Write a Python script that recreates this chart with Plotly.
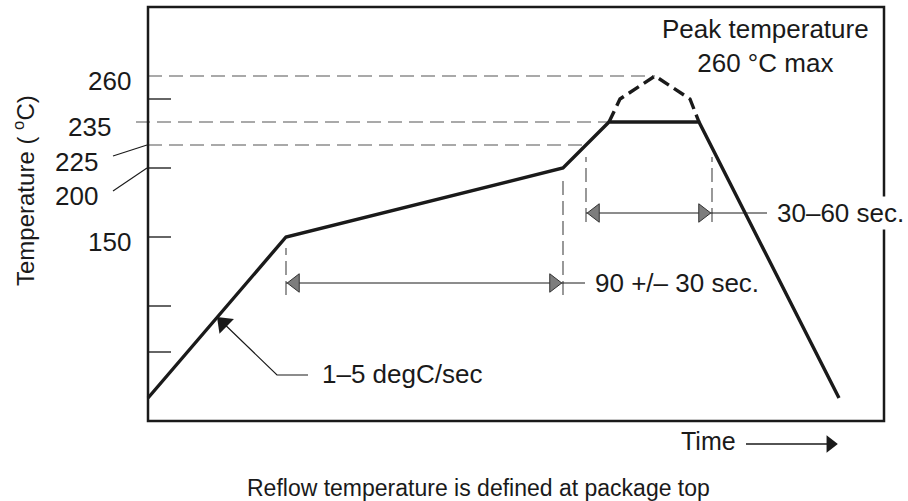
import math
import plotly.graph_objects as go

# ---- data (schematic units: x = time, y = schematic temperature level) ----
profile_time = [0, 138, 415, 461, 551, 691]
profile_level = [23, 184, 253, 299, 299, 23]

peak_time = [461, 472, 507, 542, 551]
peak_level = [299, 322, 345, 322, 299]

level_labels = ["260", "235", "225", "200", "150"]
label_right = [-15, -35, -48, -48, -15]
label_y = [340, 294, 259, 225, 179]
tick_levels = [322, 253, 184, 115, 69]

guide_levels = [345, 299, 276]
guide_start = [0, -12, 0]
guide_end = [507, 461, 438]

# leader lines from "225"/"200" labels to their levels
leader_from = [(-35, 265), (-35, 230)]
leader_to = [(-1, 276), (-1, 253)]

marker_times = [138, 415, 438, 564]
marker_low = [126, 126, 199, 199]
marker_high = [173, 241, 264, 264]

span_labels = ["90 +/\u2013 30 sec.", "30\u201360 sec."]
span_start = [138, 438]
span_end = [415, 564]
span_level = [138, 208]
span_leader_end = [437, 619]

slope_label = "1\u20135 degC/sec"
slope_path_t = [160, 129, 69]
slope_path_y = [46, 46, 104]

peak_text = "Peak temperature<br>260 \u00b0C max"
time_text = "Time"
time_arrow_t = [598, 691]
time_arrow_y = -23
caption = "Reflow temperature is defined at package top"
y_title = "Temperature ( <sup>o</sup>C)"

BOX_T = [0, 736]
BOX_Y = [0, 414]
X_RANGE = [-148, 760]
Y_RANGE = [-80, 421]

INK = "#1a1a1a"
GUIDE = "#555555"
FONT = "Liberation Sans, Arial, Helvetica, sans-serif"


def line_trace(xs, ys, **line):
    return go.Scatter(x=xs, y=ys, mode="lines", line=line,
                      hoverinfo="skip", showlegend=False)


fig = go.Figure()

# ticks on the left side of the box
tx, ty = [], []
for lv in tick_levels:
    tx += [BOX_T[0], BOX_T[0] + 23, None]
    ty += [lv, lv, None]
fig.add_trace(line_trace(tx, ty, color="#333333", width=1.5))

# horizontal dashed guides
gx, gy = [], []
for lv, s, e in zip(guide_levels, guide_start, guide_end):
    gx += [s, e, None]
    gy += [lv, lv, None]
fig.add_trace(line_trace(gx, gy, color=GUIDE, width=1.2, dash="14px,7px"))

# label leader lines
lx, ly = [], []
for (x0, y0), (x1, y1) in zip(leader_from, leader_to):
    lx += [x0, x1, None]
    ly += [y0, y1, None]
fig.add_trace(line_trace(lx, ly, color=INK, width=1.1))

# vertical dashed markers
vx, vy = [], []
for t, lo, hi in zip(marker_times, marker_low, marker_high):
    vx += [t, t, None]
    vy += [lo, hi, None]
fig.add_trace(line_trace(vx, vy, color=GUIDE, width=1.2, dash="14px,6px"))

# profile
fig.add_trace(line_trace(profile_time, profile_level, color=INK, width=3.4))
fig.add_trace(line_trace(peak_time, peak_level, color=INK, width=3.4, dash="12px,6px"))

# dimension arrow shafts
sx, sy = [], []
for s, le, lv in zip(span_start, span_leader_end, span_level):
    sx += [s, le, None]
    sy += [lv, lv, None]
fig.add_trace(line_trace(sx, sy, color=INK, width=1))

# gray arrowheads (tips at span ends)
HEAD = 16
rt = HEAD / math.sqrt(3)
hx = [s + rt for s in span_start] + [e - rt for e in span_end]
hy = span_level + span_level
hs = ["triangle-left"] * len(span_start) + ["triangle-right"] * len(span_end)
fig.add_trace(go.Scatter(x=hx, y=hy, mode="markers",
                         marker=dict(symbol=hs, size=HEAD, color="#7d7d7d",
                                     line=dict(color="#333333", width=1)),
                         hoverinfo="skip", showlegend=False))

# slope pointer (leader) and its black arrowhead at the tip
fig.add_trace(line_trace(slope_path_t, slope_path_y, color=INK, width=1.2))
SH = 18
dx = slope_path_t[-1] - slope_path_t[-2]
dy = slope_path_y[-1] - slope_path_y[-2]
dl = math.hypot(dx, dy)
ux, uy = dx / dl, dy / dl
head_angle = math.degrees(math.atan2(ux, uy))  # clockwise from "up"
fig.add_trace(go.Scatter(x=[slope_path_t[-1] - ux * SH / 2],
                         y=[slope_path_y[-1] - uy * SH / 2], mode="markers",
                         marker=dict(symbol="triangle-up", size=SH, angle=head_angle,
                                     color=INK, line=dict(width=0)),
                         hoverinfo="skip", showlegend=False))

# time arrow
TH = 15
trt = TH / math.sqrt(3)
fig.add_trace(line_trace([time_arrow_t[0], time_arrow_t[1] - trt],
                         [time_arrow_y, time_arrow_y], color=INK, width=1.5))
fig.add_trace(go.Scatter(x=[time_arrow_t[1] - trt], y=[time_arrow_y], mode="markers",
                         marker=dict(symbol="triangle-right", size=TH, color=INK),
                         hoverinfo="skip", showlegend=False))

ann = []
for txt, xr, yl in zip(level_labels, label_right, label_y):
    ann.append(dict(x=xr, y=yl, text=txt, showarrow=False,
                    xanchor="right", yanchor="middle", font=dict(size=26)))

for txt, le, lv in zip(span_labels, span_leader_end, span_level):
    ann.append(dict(x=le + 8, y=lv, text=txt, showarrow=False,
                    xanchor="left", yanchor="middle", bgcolor="white",
                    font=dict(size=26)))

ann.append(dict(x=slope_path_t[0] + 12, y=slope_path_y[0] + 1, text=slope_label,
                showarrow=False, xanchor="left", yanchor="middle", font=dict(size=26)))

ann.append(dict(x=617, y=375, text=peak_text, showarrow=False,
                xanchor="center", yanchor="middle", align="center",
                font=dict(size=26)))

ann.append(dict(x=531, y=-20, text=time_text, showarrow=False,
                xanchor="left", yanchor="middle", font=dict(size=25)))

ann.append(dict(x=330, y=-67, text=caption, showarrow=False,
                xanchor="center", yanchor="middle", font=dict(size=23)))

ann.append(dict(x=-124, y=230, text=y_title, showarrow=False, textangle=-90,
                xanchor="center", yanchor="middle", font=dict(size=24)))

fig.update_layout(
    width=908, height=501,
    margin=dict(l=0, r=0, t=0, b=0, pad=0),
    paper_bgcolor="white", plot_bgcolor="white",
    font=dict(family=FONT, color=INK, size=26),
    annotations=ann,
    shapes=[dict(type="rect", xref="x", yref="y",
                 x0=BOX_T[0], x1=BOX_T[1], y0=BOX_Y[0], y1=BOX_Y[1],
                 line=dict(color=INK, width=2.5), layer="above")],
    showlegend=False,
)
fig.update_xaxes(range=X_RANGE, visible=False, fixedrange=True)
fig.update_yaxes(range=Y_RANGE, visible=False, fixedrange=True)

fig.write_html("out.html", config={"displayModeBar": False},
               post_script="document.body.style.margin='0px';")
